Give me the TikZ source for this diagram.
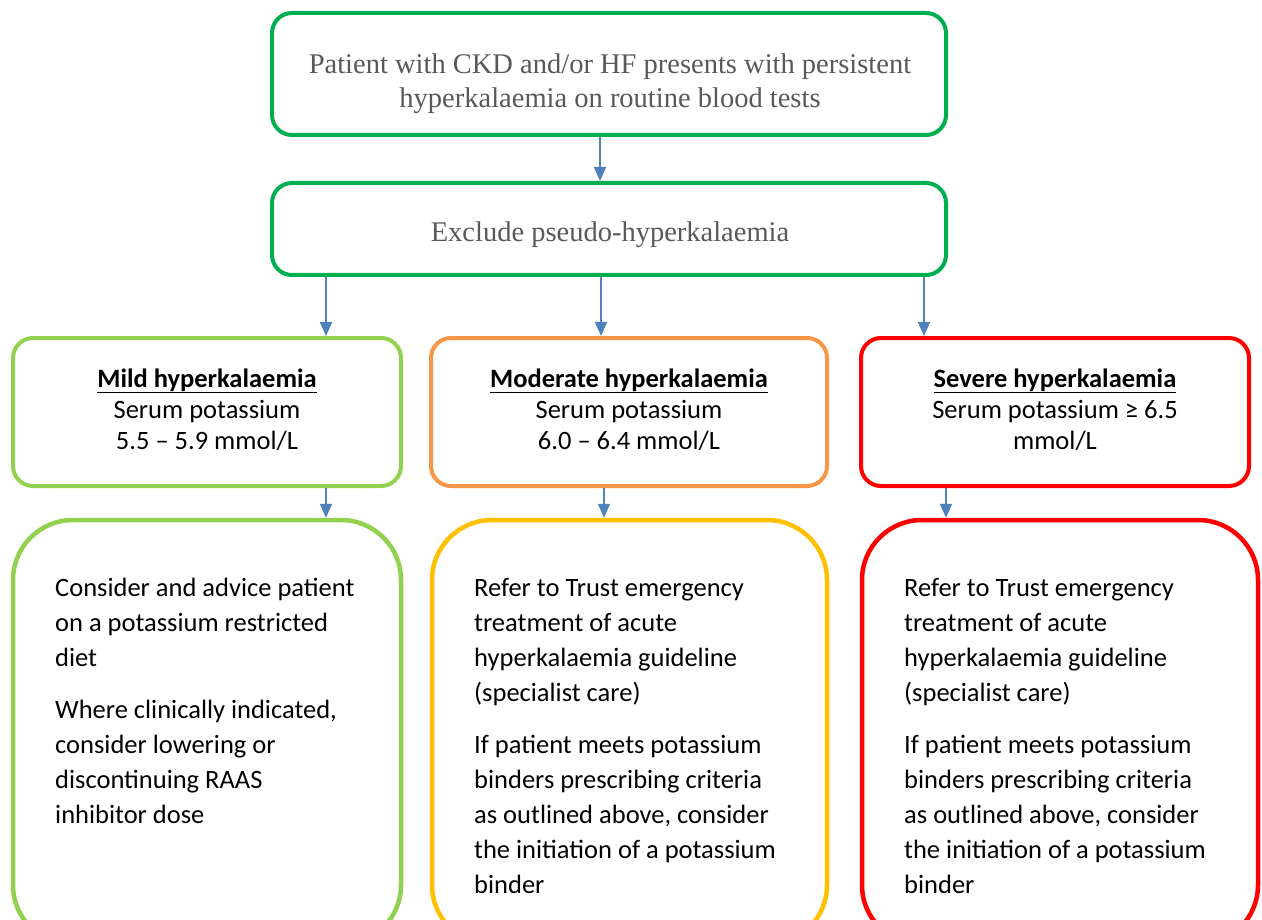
\documentclass[tikz,border=0pt]{standalone}
\usepackage{fontspec}
\setmainfont{Carlito}
\newfontfamily\camb{Liberation Serif}
\usetikzlibrary{arrows.meta}
\definecolor{kgreen}{HTML}{00B050}
\definecolor{lgreen}{HTML}{92D050}
\definecolor{korange}{HTML}{F79646}
\definecolor{kyellow}{HTML}{FFC000}
\definecolor{kred}{HTML}{FF0000}
\definecolor{ablue}{HTML}{4F81BD}
\definecolor{tgray}{HTML}{595959}
\begin{document}
\begin{tikzpicture}[x=1pt,y=-1pt,
  boxa/.style={draw=#1, line width=4pt, rounded corners=20pt, inner sep=0pt},
  boxb/.style={draw=#1, line width=4.5pt, rounded corners=60pt, inner sep=0pt},
  conn/.style={draw=ablue, line width=1.6pt, -{Triangle[length=14pt,width=12pt]}},
  toptext/.style={font=\camb\fontsize{28.5}{34}\selectfont, text=tgray, align=center, inner sep=0pt},
  midtext/.style={font=\fontsize{26.5}{31}\selectfont, align=center, inner sep=0pt, anchor=base},
  bottext/.style={font=\fontsize{26.5}{35}\selectfont, align=left, inner sep=0pt, anchor=base west}]
\useasboundingbox (0,0) rectangle (1262,920);
\clip (0,0) rectangle (1262,920);
\fill[white] (0,0) rectangle (1262,920);

% top boxes
\node[boxa=kgreen, minimum width=674pt, minimum height=122pt] (top) at (609,74) {};
\node[boxa=kgreen, minimum width=674pt, minimum height=92pt] (excl) at (609,229) {};
\node[toptext] (toptxt) at (610,84) {Patient with CKD and/or HF presents with persistent\\hyperkalaemia on routine blood tests};
\node[toptext] (excltxt) at (610,235) {Exclude pseudo-hyperkalaemia};

% middle boxes
\node[boxa=lgreen, minimum width=388pt, minimum height=148pt] (mild) at (207,412) {};
\node[boxa=korange, minimum width=396pt, minimum height=148pt] (mod) at (629,412) {};
\node[boxa=kred, minimum width=388pt, minimum height=148pt] (sev) at (1055,412) {};
\node[midtext] (mildtxt) at (207,449) {\underline{\textbf{Mild hyperkalaemia}}\\Serum potassium\\5.5 – 5.9 mmol/L};
\node[midtext] (modtxt) at (629,449) {\underline{\textbf{Moderate hyperkalaemia}}\\Serum potassium\\6.0 – 6.4 mmol/L};
\node[midtext] (sevtxt) at (1055,449) {\underline{\textbf{Severe hyperkalaemia}}\\Serum potassium ≥ 6.5\\mmol/L};

% bottom boxes
\node[boxb=lgreen, minimum width=388pt, minimum height=425pt] (mildb) at (207,732.5) {};
\node[boxb=kyellow, minimum width=395pt, minimum height=425pt] (modb) at (629.5,732.5) {};
\node[boxb=kred, minimum width=396pt, minimum height=425pt] (sevb) at (1060,732.5) {};
\node[bottext] (mildbtxt) at (55,823) {Consider and advice patient\\on a potassium restricted\\diet\\[17pt]Where clinically indicated,\\consider lowering or\\discontinuing RAAS\\inhibitor dose};
\node[bottext] (modbtxt) at (474,893) {Refer to Trust emergency\\treatment of acute\\hyperkalaemia guideline\\(specialist care)\\[17pt]If patient meets potassium\\binders prescribing criteria\\as outlined above, consider\\the initiation of a potassium\\binder};
\node[bottext] (sevbtxt) at (904,893) {Refer to Trust emergency\\treatment of acute\\hyperkalaemia guideline\\(specialist care)\\[17pt]If patient meets potassium\\binders prescribing criteria\\as outlined above, consider\\the initiation of a potassium\\binder};

% connector x positions
\coordinate (c0) at (600,0);
\coordinate (c1) at (326,0);
\coordinate (c2) at (601,0);
\coordinate (c3) at (924,0);
\coordinate (c4) at (326,0);
\coordinate (c5) at (604,0);
\coordinate (c6) at (946,0);

\draw[conn] (top.south -| c0) -- (excl.north -| c0);
\draw[conn] (excl.south -| c1) -- (mild.north -| c1);
\draw[conn] (excl.south -| c2) -- (mod.north -| c2);
\draw[conn] (excl.south -| c3) -- (sev.north -| c3);
\draw[conn] (mild.south -| c4) -- (mildb.north -| c4);
\draw[conn] (mod.south -| c5) -- (modb.north -| c5);
\draw[conn] (sev.south -| c6) -- (sevb.north -| c6);
\end{tikzpicture}
\end{document}
